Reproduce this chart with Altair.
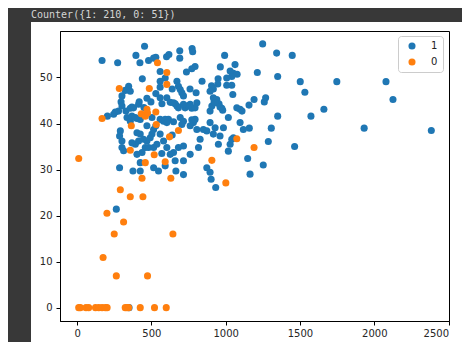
import altair as alt
import pandas as pd

class_labels = ["1", "0"]
class_colors = ["#1f77b4", "#ff7f0e"]
header_text = "Counter({1: 210, 0: 51})"
x_ticks = [0, 500, 1000, 1500, 2000, 2500]
y_ticks = [0, 10, 20, 30, 40, 50]

blue_x = [
    1249, 1343, 1448, 1213, 1350, 1502, 1748, 2079, 1533, 2126, 1191, 1269, 1260, 1157,
    1661, 1350, 1574, 1159, 1307, 1932, 2384, 1287, 1464, 1148, 1253, 1164, 1110, 1119,
    993, 1063, 1052, 1077, 1030, 1041, 964, 1007, 1007, 949, 947, 905, 917, 1048, 1041,
    895, 917, 922, 940, 955, 980, 895, 1097, 1075, 974, 907, 902, 933, 1018, 1041, 1030,
    1018, 951, 985, 917, 962, 1097, 1052, 929, 929, 962,
    774, 778, 691, 691, 794, 772, 736, 841, 672, 682, 694, 705, 716, 801, 739, 761, 806,
    727, 750, 772, 794, 682, 806, 850, 873, 716, 665, 694, 716, 705, 772, 783, 761, 895,
    828, 817, 716, 682, 649, 627, 660, 716, 761, 873, 895, 794, 716, 672,
    454, 168, 273, 396, 423, 481, 530, 602, 618, 515, 559, 439, 559, 559, 593, 347, 324,
    358, 302, 296, 302, 369, 418, 497, 559, 571, 604, 627, 649, 660, 257, 204, 329, 358,
    336, 358, 403, 425, 291, 246, 279, 380, 369, 392, 414, 403, 425, 414, 392, 369, 447,
    470, 492, 459, 481, 515, 437, 286, 302, 302, 313, 403, 425, 548, 286, 376, 425, 264,
    582, 615, 649, 504, 559, 593, 604, 559, 515, 504, 582, 604, 537, 515, 593, 350,
    640, 530, 470, 450, 530, 640, 470, 570, 760,
]
blue_y = [
    57.3, 55.3, 54.8, 51.1, 50.2, 49.1, 49.1, 49.1, 46.8, 45.2, 45.2, 45.6, 44.7, 44.0,
    43.1, 41.6, 41.6, 39.0, 39.0, 39.0, 38.5, 36.1, 35.0, 32.4, 31.0, 29.0, 42.7, 38.7,
    54.8, 52.8, 50.9, 50.7, 51.4, 50.2, 52.3, 49.9, 48.3, 49.7, 48.6, 48.2, 47.5, 46.3, 48.3,
    47.0, 45.6, 44.7, 45.2, 44.3, 42.9, 42.7, 43.1, 43.4, 43.3, 43.8, 27.9, 26.1, 41.3, 36.6, 35.5,
    34.0, 35.5, 39.1, 37.7, 37.3, 40.2, 36.9, 39.1, 44.5, 43.6,
    56.3, 55.6, 55.8, 54.2, 52.4, 51.9, 51.2, 49.2, 49.2, 48.1, 47.4, 46.7, 46.0, 46.7, 43.8, 44.2, 44.5,
    43.4, 43.8, 43.3, 43.4, 43.4, 38.7, 38.7, 38.4, 28.9, 29.7, 41.3, 40.5, 39.8, 40.8, 40.2, 39.5, 40.2,
    36.6, 34.8, 35.1, 34.8, 33.7, 33.3, 31.9, 31.9, 33.3, 30.4, 29.4, 40.9, 44.2, 43.8,
    56.8, 53.7, 53.2, 54.8, 53.2, 53.7, 54.4, 54.5, 55.0, 54.2, 51.3, 49.7, 49.2, 47.9, 49.9, 48.1, 47.2,
    47.0, 46.0, 44.7, 43.8, 43.6, 44.7, 44.7, 45.6, 44.3, 45.6, 44.6, 44.5, 44.3, 42.5, 41.6, 42.7, 43.3,
    41.3, 40.5, 41.1, 40.9, 38.4, 42.0, 42.7, 43.4, 41.6, 41.3, 44.2, 38.0, 37.7, 36.2, 35.5, 35.8, 36.6,
    36.2, 36.9, 34.8, 34.8, 34.8, 33.7, 37.3, 36.2, 34.8, 34.1, 33.3, 31.5, 29.7, 30.4, 29.7, 29.7, 21.4,
    40.5, 40.9, 40.4, 41.3, 40.9, 40.9, 40.2, 37.7, 38.7, 37.7, 36.2, 34.8, 35.5, 30.4, 30.8, 0.0,
    47.5, 46.5, 45.5, 43.5, 39.5, 37.5, 39.5, 33.5, 47.5,
]

orange_x = [
    11, 22, 60, 78, 124, 146, 168, 190, 202, 324, 336, 347, 425, 521, 600,
    201, 291, 358, 443, 437, 631, 1001, 313, 250, 645, 175, 264, 474,
    11, 358, 459, 519, 593, 907, 1075, 1191, 622, 682, 533, 365, 168, 530, 432, 459,
    474, 470, 284, 486, 541, 604, 604,
]
orange_y = [
    0, 0, 0, 0, 0, 0, 0, 0, 0, 0, 0, 0, 0, 0, 0,
    20.5, 25.6, 24.1, 24.1, 28.1, 28.1, 27.1, 18.6, 16.0, 16.0, 10.9, 6.9, 6.9,
    32.4, 34.2, 31.5, 33.2, 31.7, 32.0, 36.7, 34.8, 37.1, 38.5, 39.8, 39.5, 41.1, 42.5, 42.1, 41.6,
    42.3, 43.1, 47.6, 47.6, 53.2, 51.1, 48.5,
]

df = pd.DataFrame({
    "x": blue_x + orange_x,
    "y": blue_y + orange_y,
    "label": [class_labels[0]] * len(blue_x) + [class_labels[1]] * len(orange_x),
    "z": [0] * len(blue_x) + [1] * len(orange_x),
})

one = pd.DataFrame({"k": [0]})

points = alt.Chart(df).mark_circle(size=50, opacity=1).encode(
    x=alt.X("x:Q", scale=alt.Scale(domain=[-115, 2503], nice=False, zero=False),
            axis=alt.Axis(values=x_ticks, title=None, format="d", labelPadding=3)),
    y=alt.Y("y:Q", scale=alt.Scale(domain=[-2.9, 60.1], nice=False, zero=False),
            axis=alt.Axis(values=y_ticks, title=None, format="d", labelPadding=4)),
    color=alt.Color("label:N", scale=alt.Scale(domain=class_labels, range=class_colors),
                    legend=alt.Legend(title=None, orient="none", legendX=338, legendY=5,
                                      fillColor="white", strokeColor="#cccccc", cornerRadius=3,
                                      padding=5, labelFontSize=10, labelFont="DejaVu Sans",
                                      labelColor="#222222", symbolSize=50, symbolType="circle",
                                      symbolStrokeWidth=0, symbolOpacity=1, rowPadding=6,
                                      symbolOffset=4, labelOffset=14)),
    order=alt.Order("z:Q"),
)

top_band = alt.Chart(one).mark_rect(color="#383838").encode(
    x=alt.value(-52), x2=alt.value(402), y=alt.value(-23), y2=alt.value(-9))
left_band = alt.Chart(one).mark_rect(color="#383838").encode(
    x=alt.value(-52), x2=alt.value(-29), y=alt.value(-23), y2=alt.value(311))
header = alt.Chart(one).mark_text(text=header_text, align="left", baseline="middle",
                                  font="DejaVu Sans Mono", fontSize=10, color="#d5d5d5").encode(
    x=alt.value(-29), y=alt.value(-16))

chart = alt.layer(top_band, left_band, header, points).properties(
    width=389, height=290,
    autosize=alt.AutoSizeParams(type="none"),
    padding={"left": 52, "top": 23, "right": 13, "bottom": 21},
    background="white",
).configure_view(stroke="black", strokeWidth=1).configure_axis(
    grid=False, tickSize=4, tickColor="black", domainColor="black", tickWidth=1, domainWidth=1,
    labelFont="DejaVu Sans", labelFontSize=10, labelColor="#262626",
)

chart.save("out.html", embed_options={"renderer": "svg", "actions": False})
